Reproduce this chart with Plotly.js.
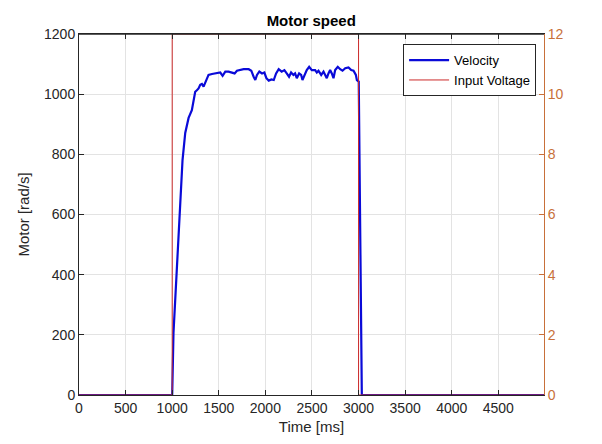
<!DOCTYPE html>
<html>
<head>
<meta charset="utf-8">
<script src="https://cdn.plot.ly/plotly-3.0.1.min.js"></script>
<style>html,body{margin:0;padding:0;background:#fff}#chart{width:602px;height:444px}</style>
</head>
<body>
<div id="chart"></div>
<script>
const timeMs = [0, 1000, 1014, 1050, 1086, 1111, 1140, 1176, 1211, 1230, 1247, 1265, 1283, 1301, 1319, 1337, 1362, 1390, 1427, 1480, 1516, 1541, 1570, 1605, 1634, 1670, 1695, 1767, 1821, 1849, 1874, 1892, 1910, 1935, 1964, 1989, 2011, 2036, 2065, 2090, 2115, 2143, 2175, 2204, 2229, 2254, 2276, 2301, 2319, 2337, 2362, 2384, 2398, 2419, 2444, 2470, 2498, 2534, 2552, 2570, 2599, 2624, 2642, 2659, 2677, 2695, 2713, 2731, 2749, 2777, 2803, 2828, 2857, 2892, 2921, 2946, 2971, 2982, 3002, 3035, 4990];
const velocity = [0, 0, 206, 405, 605, 781, 871, 921, 947, 985, 1008, 1013, 1019, 1031, 1034, 1025, 1045, 1064, 1067, 1069, 1072, 1061, 1075, 1075, 1072, 1069, 1078, 1083, 1083, 1078, 1058, 1047, 1064, 1075, 1069, 1072, 1053, 1045, 1049, 1047, 1069, 1083, 1075, 1080, 1069, 1058, 1072, 1064, 1069, 1053, 1069, 1064, 1047, 1064, 1080, 1091, 1080, 1080, 1072, 1078, 1064, 1075, 1061, 1053, 1069, 1080, 1069, 1053, 1080, 1091, 1083, 1078, 1086, 1089, 1080, 1078, 1064, 1047, 1042, 0, 0];
const voltTime = [0, 1000, 1000, 3000, 3000, 4990];
const voltage = [0, 0, 12, 12, 0, 0];
const xTicks = [0, 500, 1000, 1500, 2000, 2500, 3000, 3500, 4000, 4500];

const dark = '#262626';
const orange = '#c8703a';
const font = 'Liberation Sans, Arial, sans-serif';

const traces = [
  {x: timeMs, y: velocity, type: 'scatter', mode: 'lines', name: 'Velocity',
   line: {color: '#0a0ad8', width: 2.2}, xaxis: 'x', yaxis: 'y'},
  {x: voltTime, y: voltage, type: 'scatter', mode: 'lines', name: 'Input Voltage',
   line: {color: '#cc2a2a', width: 1}, xaxis: 'x', yaxis: 'y2'}
];

const layout = {
  width: 602, height: 444,
  margin: {l: 79, r: 58, t: 34, b: 49},
  paper_bgcolor: '#fff', plot_bgcolor: '#fff',
  font: {family: font, color: dark, size: 14},
  title: {text: '<b>Motor speed</b>', font: {size: 15, color: '#000'}, x: 0.517, xanchor: 'center', y: 0.953, yanchor: 'middle'},
  showlegend: true,
  legend: {x: 0.697, y: 0.972, xanchor: 'left', yanchor: 'top', bgcolor: '#fff',
    bordercolor: dark, borderwidth: 1, font: {size: 13, color: '#000'}, itemwidth: 40,
    tracegroupgap: 0},
  shapes: [
    {type: 'line', xref: 'paper', yref: 'paper', x0: 0, x1: 1, y0: 1, y1: 1,
     line: {color: dark, width: 1.5}, layer: 'above'}
  ],
  xaxis: {range: [0, 4990], tickvals: xTicks, ticks: 'inside', ticklen: 5, tickcolor: dark,
    showline: true, linecolor: dark, linewidth: 1, mirror: 'ticks', showgrid: true, gridcolor: '#e3e3e3',
    zeroline: false, tickfont: {size: 14, color: dark},
    title: {text: 'Time [ms]', font: {size: 15, color: dark}, standoff: 6}},
  yaxis: {range: [0, 1200], dtick: 200, ticks: 'inside', ticklen: 5, tickcolor: dark,
    showline: true, linecolor: dark, linewidth: 1, showgrid: true, gridcolor: '#e3e3e3',
    zeroline: false, tickfont: {size: 14, color: dark},
    title: {text: 'Motor [rad/s]', font: {size: 15, color: dark}, standoff: 10}},
  yaxis2: {range: [0, 12], dtick: 2, overlaying: 'y', side: 'right', ticks: 'inside', ticklen: 5,
    tickcolor: orange, showline: true, linecolor: orange, linewidth: 1, showgrid: false,
    zeroline: false, tickfont: {size: 14, color: orange}}
};

Plotly.newPlot('chart', traces, layout, {displayModeBar: false, staticPlot: true});
</script>
</body>
</html>
